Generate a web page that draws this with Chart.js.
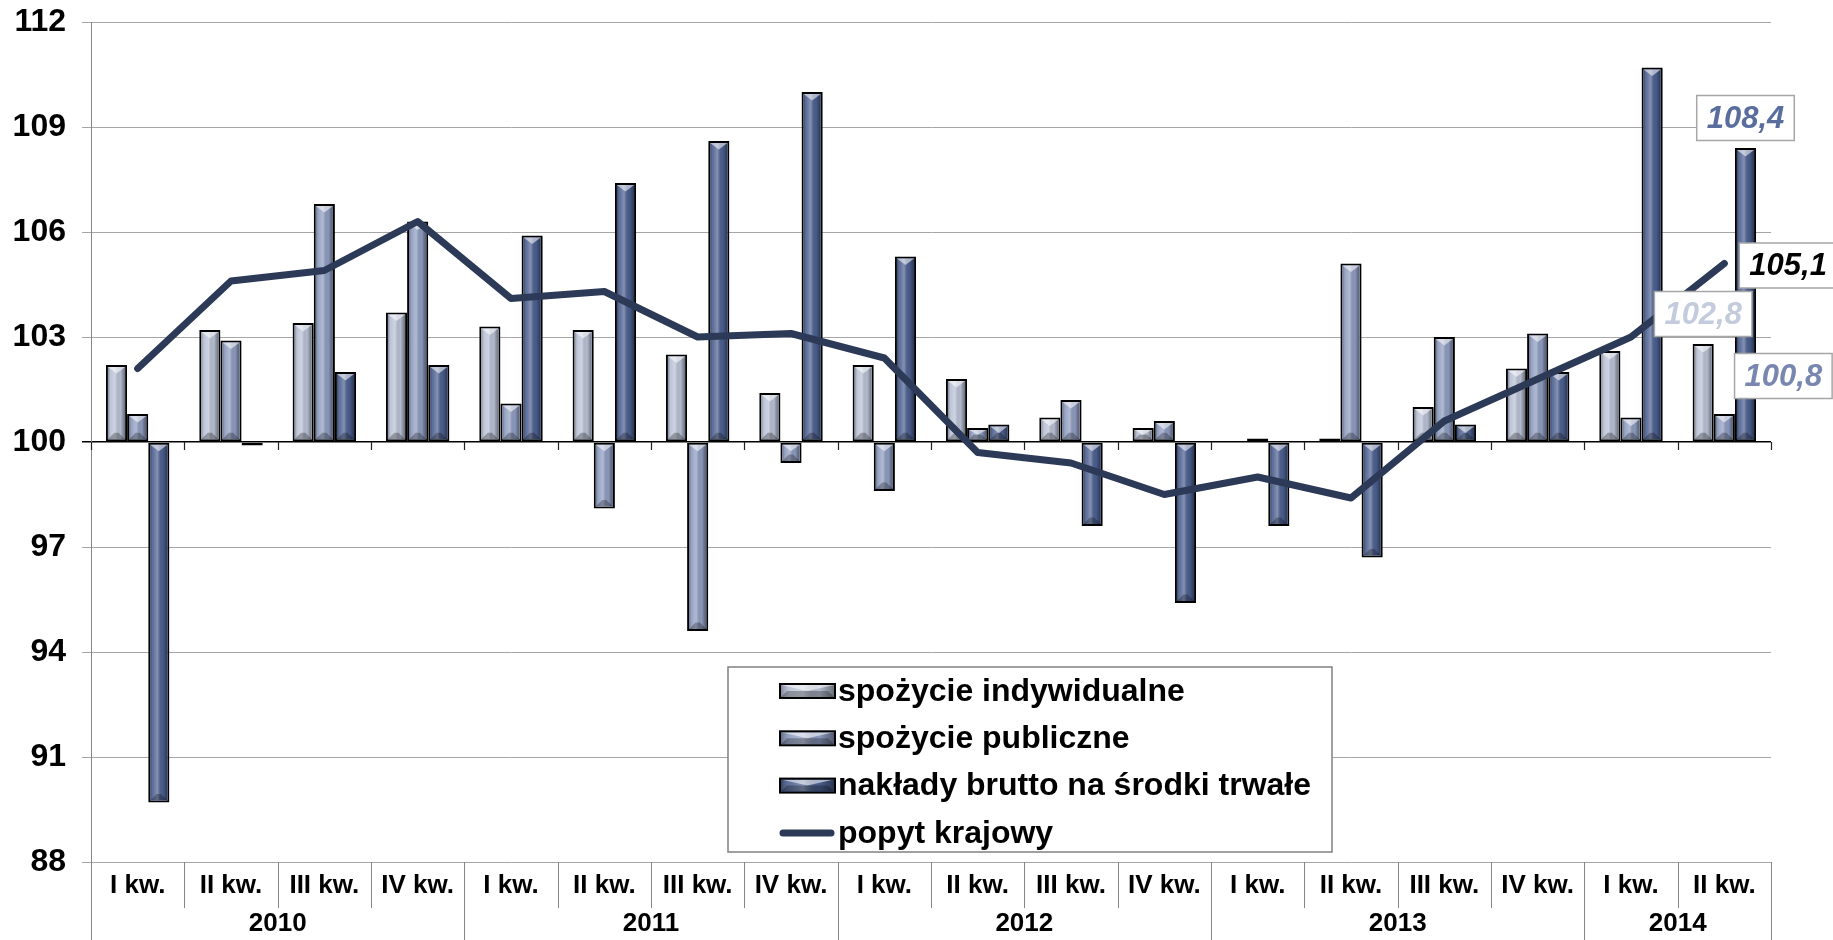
<!DOCTYPE html>
<html>
<head>
<meta charset="utf-8">
<script src="https://cdn.jsdelivr.net/npm/chart.js@4.4.0/dist/chart.umd.min.js"></script>
<style>
  html, body { margin: 0; padding: 0; background: #fff; }
  #wrap { width: 1833px; height: 940px; }
</style>
</head>
<body>
<div id="wrap"><canvas id="wykres"></canvas></div>
<script>
// dane: dynamika (analogiczny okres roku poprzedniego = 100)
const kwartaly = ['I kw.', 'II kw.', 'III kw.', 'IV kw.', 'I kw.', 'II kw.', 'III kw.', 'IV kw.',
  'I kw.', 'II kw.', 'III kw.', 'IV kw.', 'I kw.', 'II kw.', 'III kw.', 'IV kw.', 'I kw.', 'II kw.'];
const lata = ['2010', '2011', '2012', '2013', '2014'];
const kwartalyWRoku = [4, 4, 4, 4, 2];
const indywidualne = [102.2, 103.2, 103.4, 103.7, 103.3, 103.2, 102.5, 101.4, 102.2, 101.8, 100.7, 100.4, 100.0, 100.1, 101.0, 102.1, 102.6, 102.8];
const publiczne = [100.8, 102.9, 106.8, 106.3, 101.1, 98.1, 94.6, 99.4, 98.6, 100.4, 101.2, 100.6, 100.1, 105.1, 103.0, 103.1, 100.7, 100.8];
const naklady = [89.7, 99.9, 102.0, 102.2, 105.9, 107.4, 108.6, 110.0, 105.3, 100.5, 97.6, 95.4, 97.6, 96.7, 100.5, 102.0, 110.7, 108.4];
const popyt = [102.1, 104.6, 104.9, 106.3, 104.1, 104.3, 103.0, 103.1, 102.4, 99.7, 99.4, 98.5, 99.0, 98.4, 100.6, 101.8, 103.0, 105.1];
const ticksY = [88, 91, 94, 97, 100, 103, 106, 109, 112];

const FONT = '"Liberation Sans", Arial, sans-serif';

// efekt "wypukłego" słupka jak w Excelu
function rysujSkos(ctx, x0, x1, top, bot) {
  const w = x1 - x0, h = bot - top;
  if (w <= 0 || h <= 0) return;
  ctx.save();
  ctx.beginPath();
  ctx.rect(x0, top, w, h);
  ctx.clip();
  const g = ctx.createLinearGradient(x0, 0, x1, 0);
  g.addColorStop(0, 'rgba(0,0,0,0.30)');
  g.addColorStop(0.18, 'rgba(255,255,255,0.12)');
  g.addColorStop(0.42, 'rgba(255,255,255,0.32)');
  g.addColorStop(0.72, 'rgba(0,0,0,0.02)');
  g.addColorStop(1, 'rgba(0,0,0,0.42)');
  ctx.fillStyle = g;
  ctx.fillRect(x0, top, w, h);
  const t = Math.min(w * 0.38, h / 2);
  ctx.fillStyle = 'rgba(255,255,255,0.55)';
  ctx.beginPath();
  ctx.moveTo(x0, top); ctx.lineTo(x1, top); ctx.lineTo(x0 + w / 2, top + t); ctx.closePath();
  ctx.fill();
  ctx.fillStyle = 'rgba(0,0,0,0.28)';
  ctx.beginPath();
  ctx.moveTo(x0, bot); ctx.lineTo(x1, bot); ctx.lineTo(x1 - t, bot - t); ctx.lineTo(x0 + t, bot - t); ctx.closePath();
  ctx.fill();
  ctx.restore();
}

const skos = {
  id: 'skos',
  afterDatasetDraw(chart, args) {
    if (args.meta.type !== 'bar') return;
    const ctx = chart.ctx;
    args.meta.data.forEach(el => {
      const p = el.getProps(['x', 'y', 'base', 'width'], true);
      const x0 = p.x - p.width / 2 + 2, x1 = p.x + p.width / 2 - 2;
      const top = Math.min(p.y, p.base) + 2, bot = Math.max(p.y, p.base) - 2;
      rysujSkos(ctx, x0, x1, top, bot);
    });
  }
};

function etykieta(ctx, tekst, cx, cy, kolor, odLewej) {
  ctx.font = 'italic bold 31px ' + FONT;
  const w = ctx.measureText(tekst).width + 20, h = 45;
  const left = odLewej ? cx : cx - w / 2;
  ctx.fillStyle = '#fff';
  ctx.fillRect(left, cy - h / 2, w, h);
  ctx.strokeStyle = '#a6a6a6';
  ctx.lineWidth = 1.5;
  ctx.strokeRect(left, cy - h / 2, w, h);
  ctx.fillStyle = kolor;
  ctx.textAlign = 'left';
  ctx.textBaseline = 'middle';
  ctx.fillText(tekst, left + 10, cy + 1);
}

const dodatki = {
  id: 'dodatki',
  afterDraw(chart) {
    const ctx = chart.ctx, a = chart.chartArea, x = chart.scales.x, y = chart.scales.y;
    const n = kwartaly.length;
    ctx.save();

    // znaczniki na osi 100
    const y100 = y.getPixelForValue(100);
    ctx.strokeStyle = '#222';
    ctx.lineWidth = 1.2;
    for (let i = 0; i <= n; i++) {
      const px = Math.round(x.getPixelForValue(i - 0.5)) + 0.5;
      ctx.beginPath(); ctx.moveTo(px, y100); ctx.lineTo(px, y100 + 8); ctx.stroke();
    }

    // oś kategorii: kwartały i lata
    const granice = [0];
    kwartalyWRoku.forEach(k => granice.push(granice[granice.length - 1] + k));
    ctx.strokeStyle = '#868686';
    ctx.lineWidth = 1;
    for (let i = 0; i <= n; i++) {
      const px = Math.round(x.getPixelForValue(i - 0.5)) + 0.5;
      const dol = granice.includes(i) ? chart.height : a.bottom + 46;
      ctx.beginPath(); ctx.moveTo(px, a.bottom); ctx.lineTo(px, dol); ctx.stroke();
    }
    ctx.fillStyle = '#000';
    ctx.textAlign = 'center';
    ctx.textBaseline = 'middle';
    ctx.font = 'bold 26px ' + FONT;
    kwartaly.forEach((k, i) => ctx.fillText(k, x.getPixelForValue(i), a.bottom + 24));
    lata.forEach((r, j) => {
      const srodek = (granice[j] + granice[j + 1] - 1) / 2;
      ctx.fillText(r, x.getPixelForValue(srodek), a.bottom + 62);
    });

    // legenda
    const L = { left: 728, top: 667, right: 1332, bottom: 852 };
    ctx.fillStyle = '#fff';
    ctx.fillRect(L.left, L.top, L.right - L.left, L.bottom - L.top);
    ctx.strokeStyle = '#808080';
    ctx.lineWidth = 1.5;
    ctx.strokeRect(L.left, L.top, L.right - L.left, L.bottom - L.top);
    const ds = chart.data.datasets;
    const kolejnosc = [1, 2, 3, 0];
    kolejnosc.forEach((di, r) => {
      const d = ds[di];
      const cy = 691 + r * 47.3;
      if (d.type === 'line') {
        ctx.strokeStyle = d.borderColor;
        ctx.lineWidth = 7;
        ctx.lineCap = 'round';
        ctx.beginPath(); ctx.moveTo(783, cy); ctx.lineTo(831, cy); ctx.stroke();
      } else {
        ctx.fillStyle = d.backgroundColor;
        ctx.fillRect(780, cy - 7, 55, 14);
        rysujSkos(ctx, 781, 834, cy - 6, cy + 6);
        ctx.strokeStyle = '#000';
        ctx.lineWidth = 2;
        ctx.strokeRect(780, cy - 7, 55, 14);
      }
      ctx.fillStyle = '#000';
      ctx.font = 'bold 32px ' + FONT;
      ctx.textAlign = 'left';
      ctx.textBaseline = 'middle';
      ctx.fillText(d.label, 838, cy + 1);
    });

    // etykiety danych dla ostatniego kwartału
    const ost = n - 1;
    const fmt = v => v.toFixed(1).replace('.', ',');
    const eInd = chart.getDatasetMeta(1).data[ost];
    const ePub = chart.getDatasetMeta(2).data[ost];
    const eNak = chart.getDatasetMeta(3).data[ost];
    const ePop = chart.getDatasetMeta(0).data[ost];
    etykieta(ctx, fmt(naklady[ost]), eNak.x, eNak.y - 30, '#5a6e9e', false);
    etykieta(ctx, fmt(popyt[ost]), ePop.x + 15, ePop.y + 2, '#000', true);
    etykieta(ctx, fmt(indywidualne[ost]), eInd.x, eInd.y - 30, '#c3cbdd', false);
    etykieta(ctx, fmt(publiczne[ost]), ePub.x + 59, ePub.y - 38, '#7886b0', false);
    ctx.restore();
  }
};

const wspolne = {
  type: 'bar', base: 100, borderColor: '#000', borderWidth: 2, borderSkipped: false,
  categoryPercentage: 0.68, barPercentage: 1.0, order: 1
};

new Chart(document.getElementById('wykres'), {
  data: {
    labels: kwartaly,
    datasets: [
      { type: 'line', label: 'popyt krajowy', data: popyt, borderColor: '#2c3a57', borderWidth: 7,
        pointRadius: 0, pointHoverRadius: 0, tension: 0, fill: false, order: 0,
        borderCapStyle: 'round', borderJoinStyle: 'round' },
      Object.assign({ label: 'spożycie indywidualne', data: indywidualne, backgroundColor: '#b8c0d4' }, wspolne),
      Object.assign({ label: 'spożycie publiczne', data: publiczne, backgroundColor: '#8d9bbf' }, wspolne),
      Object.assign({ label: 'nakłady brutto na środki trwałe', data: naklady, backgroundColor: '#4a5e8f' }, wspolne)
    ]
  },
  options: {
    responsive: true,
    maintainAspectRatio: false,
    animation: false,
    devicePixelRatio: 1,
    layout: { padding: { top: 22, left: 0, right: 62, bottom: 78 } },
    plugins: { legend: { display: false }, tooltip: { enabled: false } },
    scales: {
      x: { display: false },
      y: {
        min: 88, max: 112,
        afterBuildTicks: s => { s.ticks = ticksY.map(v => ({ value: v })); },
        afterFit: s => { s.width = 91; s.paddingTop = 0; s.paddingBottom = 0; },
        ticks: { color: '#000', padding: 16, font: { family: FONT, size: 32, weight: 'bold' } },
        grid: {
          color: c => (c.tick && c.tick.value === 100 ? '#000' : '#a6a6a6'),
          lineWidth: c => (c.tick && c.tick.value === 100 ? 1.5 : 1),
          tickLength: 9
        },
        border: { color: '#868686', width: 1 }
      }
    }
  },
  plugins: [skos, dodatki]
});
</script>
</body>
</html>
